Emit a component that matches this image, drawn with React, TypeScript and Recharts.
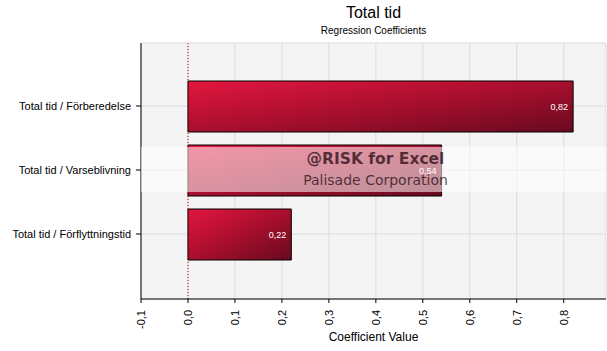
import React from 'react';
import {
  BarChart,
  Bar,
  XAxis,
  YAxis,
  CartesianGrid,
  ReferenceLine,
  LabelList,
} from 'recharts';

const categories = ['Total tid / Förberedelse', 'Total tid / Varseblivning', 'Total tid / Förflyttningstid'];
const coefficients = [0.82, 0.54, 0.22];
const xTicks = [-0.1, 0, 0.1, 0.2, 0.3, 0.4, 0.5, 0.6, 0.7, 0.8];

const FONT = '"Liberation Sans", Arial, sans-serif';

const fmt = (v: number) => v.toFixed(1).replace('.', ',');

const XTick = (props: any) => {
  const { x, y, payload } = props;
  return (
    <g transform={`translate(${x},${y})`}>
      <text transform="rotate(-90)" x={-5} y={0} dy={4} textAnchor="end" fontSize={11} fill="#000" fontFamily={FONT}>
        {fmt(payload.value)}
      </text>
    </g>
  );
};

const YTick = (props: any) => {
  const { x, y, payload } = props;
  return (
    <text x={x - 3} y={y} dy={4} textAnchor="end" fontSize={11} fill="#000" fontFamily={FONT}>
      {payload.value}
    </text>
  );
};

const BarValue = (props: any) => {
  const { x, y, width, height, value } = props;
  return (
    <text x={x + width - 5} y={y + height / 2 + 3} textAnchor="end" fontSize={9} fill="#fff" fontFamily={FONT}>
      {String(value).replace('.', ',')}
    </text>
  );
};

export default function App() {
  const data = categories.map((name, i) => ({ name, value: coefficients[i] }));

  return (
    <div style={{ position: 'relative', width: 607, height: 351, background: '#fff', fontFamily: FONT }}>
      <style>{`body{margin:0}`}</style>
      {/* titles */}
      <div style={{ position: 'absolute', left: 141, width: 465, top: 4, textAlign: 'center', fontSize: 16 }}>Total tid</div>
      <div style={{ position: 'absolute', left: 141, width: 465, top: 25, textAlign: 'center', fontSize: 10 }}>
        Regression Coefficients
      </div>

      <BarChart
        width={607}
        height={351}
        layout="vertical"
        data={data}
        margin={{ top: 43, right: 1, bottom: 0, left: 0 }}
      >
        <defs>
          <linearGradient id="barFill" x1="0" y1="0" x2="1" y2="1">
            <stop offset="0%" stopColor="#e3163f" />
            <stop offset="50%" stopColor="#a90f2e" />
            <stop offset="100%" stopColor="#680a1f" />
          </linearGradient>
        </defs>
        <CartesianGrid stroke="#dcdcdc" fill="#f4f4f4" />
        <XAxis
          type="number"
          domain={[-0.1, 0.89]}
          ticks={xTicks}
          allowDataOverflow
          axisLine={{ stroke: '#000' }}
          tickLine={{ stroke: '#000' }}
          tickSize={4}
          height={52}
          tick={<XTick />}
          interval={0}
        />
        <YAxis
          type="category"
          dataKey="name"
          width={141}
          padding={{ top: 31, bottom: 33 }}
          axisLine={{ stroke: '#000' }}
          tickLine={{ stroke: '#000' }}
          tickSize={5}
          tick={<YTick />}
        />
        <ReferenceLine x={0} stroke="#b0102e" strokeDasharray="1 2" />
        <Bar dataKey="value" fill="url(#barFill)" stroke="#000" strokeWidth={1} barSize={51} isAnimationActive={false}>
          <LabelList dataKey="value" content={<BarValue />} />
        </Bar>
      </BarChart>

      {/* watermark */}
      <div
        style={{
          position: 'absolute',
          left: 141,
          top: 147,
          width: 465,
          height: 45,
          background: 'rgba(255,255,255,0.55)',
        }}
      />
      <div
        style={{
          position: 'absolute',
          left: 141,
          top: 148,
          width: 469,
          textAlign: 'center',
          color: 'rgba(40,10,20,0.75)',
          fontFamily: '"DejaVu Sans", sans-serif',
        }}
      >
        <div style={{ fontSize: 15.5, fontWeight: 'bold', lineHeight: '22px' }}>@RISK for Excel</div>
        <div style={{ fontSize: 14, lineHeight: '20px' }}>Palisade Corporation</div>
      </div>

      <div style={{ position: 'absolute', left: 141, width: 465, top: 330, textAlign: 'center', fontSize: 12 }}>
        Coefficient Value
      </div>
    </div>
  );
}
